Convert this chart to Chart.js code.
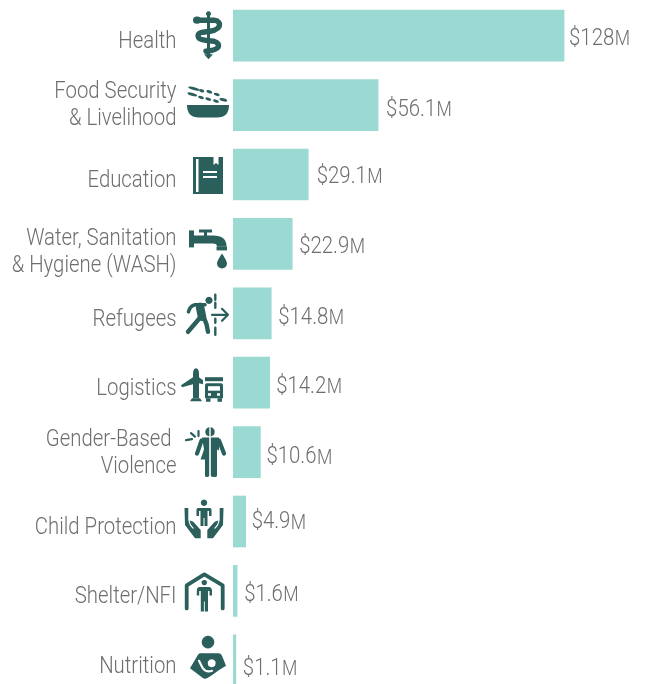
<!DOCTYPE html>
<html>
<head>
<meta charset="utf-8">
<title>Funding by sector</title>
<script src="https://cdn.jsdelivr.net/npm/chart.js@4"></script>
<style>
  html, body { margin: 0; padding: 0; background: #fff; overflow: hidden; }
  #chart { display: block; }
</style>
</head>
<body>
<canvas id="chart" width="645" height="695"></canvas>
<script>
// Data
const categories = [
    'Health',
    ['Food Security', '& Livelihood'],
    'Education',
    ['Water, Sanitation', '& Hygiene (WASH)'],
    'Refugees',
    'Logistics',
    ['Gender-Based ', 'Violence'],
    'Child Protection',
    'Shelter/NFI',
    'Nutrition'
];
const funding = [128, 56.1, 29.1, 22.9, 14.8, 14.2, 10.6, 4.9, 1.6, 1.1];
const fundingLabels = ['$128', '$56.1', '$29.1', '$22.9', '$14.8', '$14.2', '$10.6', '$4.9', '$1.6', '$1.1'];
const fundingUnit = 'M';

// Labels in the original are not quite centred on their bars
const tickNudge = [7, 0.5, 7, 8.5, 6.5, 6.5, 1.5, 6.5, 6.5, 6.5];
const valueNudge = [3.5, 5, 2.5, 3.5, 4.5, 4.5, 5.5, 1, 4.5, 9];
const valueGap = [5, 8, 8.5, 7, 7, 6.5, 6, 6, 7, 7];

const BAR_COLOR = '#9bdad2';
const ICON_COLOR = '#2a5f5c';
const TEXT_COLOR = '#6e6e6e';
const FONT_FAMILY = 'Roboto, sans-serif';
const TEXT_SQUEEZE = 0.885; // the original type is slightly condensed
const LABEL_RIGHT = 176.5;

// Icons: [kind, svg path, stroke width]. d = dark fill, s = dark stroke, w = white fill, c = white stroke
// Local coordinates, origin is 52px left of the bar start at the bar top
const icons = [
    [
        ['s', 'M27.5 4V45', 3],
        ['d', 'M27.5 1a2.5 2.5 0 1 0 .01 0Z'],
        ['d', 'M23 44H32L27.5 49Z'],
        ['s', 'M16 10H33Q40 11 38 16.5Q36 21 22 22Q15 23 18 28Q19 30 33 31Q39 33 37 37Q35 40 25 41', 5.4],
        ['d', 'M12 10a4 3.6 0 1 0 8 0a4 3.6 0 1 0 -8 0Z']
    ],
    [
        ['d', 'M6 25.5H48Q48 38 36 38H18Q6 38 6 25.5Z'],
        ['l', [[13, 9, 6], [20.7, 11.2, 2.6], [28.3, 12.2, 3], [35.7, 14.8, 3], [11.3, 14.8, 5], [20, 17.8, 3], [27.3, 19.5, 3], [35, 21.5, 3], [42.3, 20.2, 4]]]
    ],
    [
        ['d', 'M12 8H42V45H12Z'],
        ['w', 'M32.5 7H37.5V16L35 14L32.5 16Z'],
        ['w', 'M15 10H17.5V43H15Z'],
        ['w', 'M22 22H36V24H22ZM22 27H36V29H22Z']
    ],
    [
        ['d', 'M8 12H13V29H8Z'],
        ['d', 'M13 17H32Q45.5 17 45.5 28H36Q36 25 32 25H13Z'],
        ['d', 'M35.5 28H46V32H35.5Z'],
        ['d', 'M18 11H31V14H18ZM23 14H26V18H23Z'],
        ['d', 'M41 35C41 35 46 42 46 45A5 5 0 1 1 36 45C36 42 41 35 41 35Z']
    ],
    [
        ['d', 'M28 9a3.6 3.6 0 1 0 .01 0Z'],
        ['s', 'M7.5 24Q9 18 14 17H24', 3.6],
        ['s', 'M19 19L21 29', 8.5],
        ['s', 'M19 30L7 44', 4.4],
        ['s', 'M23 30Q26 36 27 44', 4.4],
        ['s', 'M34.3 7V12M34.3 15V20M34.3 31V35M34.3 40V47', 2.4],
        ['s', 'M31 27H46M41 21L47 27L41 33', 2.2]
    ],
    [
        ['d', 'M15 11Q18 11 18 17V41H12V17Q12 11 15 11Z'],
        ['d', 'M0 28L12 20V27L1 30Z'],
        ['d', 'M18 20L22 23V27L18 26Z'],
        ['d', 'M9 44L11 41H19L21 44Z'],
        ['d', 'M24 20H42V24H24Z'],
        ['d', 'M24 28Q24 26 26 26H40Q42 26 42 28V41H24Z'],
        ['w', 'M27 29H39V33.5H27Z'],
        ['w', 'M27 36H30V38.5H27ZM36 36H39V38.5H36Z'],
        ['d', 'M25 41H29.5V44.5H25ZM36.5 41H41V44.5H36.5Z']
    ],
    [
        ['d', 'M29 0.5a4.7 4.7 0 1 0 .01 0Z'],
        ['s', 'M20.5 14L16 27', 4.2],
        ['s', 'M38 14L43 27', 4.2],
        ['d', 'M21 11H28.2V49Q28.2 50.5 26 50.5T24 49V33H19.5L23 23Z'],
        ['d', 'M29.8 11H38V24L36 23V49Q36 50.5 33 50.5T29.8 49Z'],
        ['c', 'M29 0V10', 1.4],
        ['s', 'M5 13.5L11 12.5M10 6.5L14 10M17.5 4.5V9.5', 2.2]
    ],
    [
        ['d', 'M23 3.5a3.2 3.2 0 1 0 .01 0Z'],
        ['d', 'M17 12H29Q30.5 12 30.5 14V20H28V15H26.5V30H23.5V22H22.5V30H19.5V15H18V20H15.5V14Q15.5 12 17 12Z'],
        ['d', 'M3.5 12H7.3V24L12.3 25.7L19.7 34V42.3H14L4 29Z'],
        ['d', 'M42.5 12H38.7V24L33.7 25.7L26.3 34V42.3H32L42 29Z'],
        ['c', 'M8 24Q8.5 29 12 32', 1.2],
        ['c', 'M38 24Q37.5 29 34 32', 1.2]
    ],
    [
        ['s', 'M5.7 43V20L23.3 9L41.7 20V43', 3.8],
        ['d', 'M23.3 14.5a2.7 2.7 0 1 0 .01 0Z'],
        ['d', 'M18.5 21.5H28Q30.5 21.5 31 25L31 30H28.5V25.5H27V46H23.8V36H22.9V46H19.8V25.5H18.2V30H15.8V25Q16 21.5 18.5 21.5Z']
    ],
    [
        ['d', 'M27 1a6.3 6.3 0 1 0 .01 0Z'],
        ['d', 'M19 18.5H38Q40 18.5 41 21L45 31L37 36Q32 40 26 43.5Q23.5 44.5 21.5 43L9 33.5L17 20Q18 18.5 19 18.5Z'],
        ['w', 'M30.7 24.5a4 4 0 1 0 .01 0Z'],
        ['c', 'M18 26L21.5 33Q25 38 31 36', 2.2]
    ]
];

function drawIcon(ctx, parts, x, y) {
    ctx.save();
    ctx.translate(x, y);
    ctx.lineCap = 'round';
    ctx.lineJoin = 'round';
    parts.forEach(([kind, shape, width]) => {
        if (kind === 'l') {
            // grain leaves
            ctx.fillStyle = ICON_COLOR;
            shape.forEach(([cx, cy, rx]) => {
                ctx.beginPath();
                ctx.ellipse(cx, cy, rx, 1.5, 0.28, 0, Math.PI * 2);
                ctx.fill();
            });
            return;
        }
        const path = new Path2D(shape);
        if (kind === 'd' || kind === 'w') {
            ctx.fillStyle = kind === 'd' ? ICON_COLOR : '#fff';
            ctx.fill(path);
        } else {
            ctx.strokeStyle = kind === 's' ? ICON_COLOR : '#fff';
            ctx.lineWidth = width;
            ctx.stroke(path);
        }
    });
    ctx.restore();
}

// Moves the axis labels, draws the value labels and the icons
const sectorDecor = {
    id: 'sectorDecor',
    beforeDraw(chart) {
        const yScale = chart.scales.y;
        yScale.getLabelItems().forEach((item, i) => {
            if (!item.nudged) {
                item.options.translation[1] += tickNudge[i];
                item.nudged = true;
            }
        });
        if (!yScale.squeezed) {
            const drawLabels = yScale.drawLabels;
            // long labels start left of x=0 before squeezing, so no label clip
            yScale._computeLabelArea = () => undefined;
            yScale.drawLabels = function (area) {
                const ctx = chart.ctx;
                ctx.save();
                ctx.translate(LABEL_RIGHT, 0);
                ctx.scale(TEXT_SQUEEZE, 1);
                ctx.translate(-LABEL_RIGHT, 0);
                drawLabels.call(this, area);
                ctx.restore();
            };
            yScale.squeezed = true;
        }
    },
    afterDatasetsDraw(chart) {
        const ctx = chart.ctx;
        const bars = chart.getDatasetMeta(0).data;
        ctx.save();
        ctx.textBaseline = 'middle';
        ctx.textAlign = 'left';
        ctx.fillStyle = TEXT_COLOR;
        bars.forEach((bar, i) => {
            const y = bar.y + valueNudge[i];
            ctx.save();
            ctx.translate(bar.x + valueGap[i], 0);
            ctx.scale(TEXT_SQUEEZE, 1);
            ctx.font = `300 23px ${FONT_FAMILY}`;
            ctx.fillText(fundingLabels[i], 0, y);
            const w = ctx.measureText(fundingLabels[i]).width;
            ctx.font = `300 20px ${FONT_FAMILY}`;
            ctx.fillText(fundingUnit, w + 0.5, y + 1);
            ctx.restore();
            drawIcon(ctx, icons[i], chart.chartArea.left - 52, bar.y - 25.5);
        });
        ctx.restore();
    }
};

new Chart(document.getElementById('chart'), {
    type: 'bar',
    data: {
        labels: categories,
        datasets: [{
            data: funding,
            backgroundColor: BAR_COLOR,
            borderWidth: 0,
            barThickness: 51
        }]
    },
    options: {
        indexAxis: 'y',
        responsive: false,
        animation: false,
        layout: { padding: { top: 1, right: 0, bottom: 0, left: 0 } },
        plugins: {
            legend: { display: false },
            title: { display: false },
            tooltip: { enabled: false }
        },
        scales: {
            x: { display: false, min: 0, max: 159.3 },
            y: {
                afterFit: (scale) => {
                    scale.width = 233;
                    scale.paddingTop = 0;
                    scale.paddingBottom = 0;
                },
                grid: { display: false, drawTicks: false },
                border: { display: false },
                ticks: {
                    autoSkip: false,
                    padding: 56.5,
                    color: TEXT_COLOR,
                    font: { family: FONT_FAMILY, size: 23, weight: 300, lineHeight: '27px' }
                }
            }
        }
    },
    plugins: [sectorDecor]
});
</script>
</body>
</html>
